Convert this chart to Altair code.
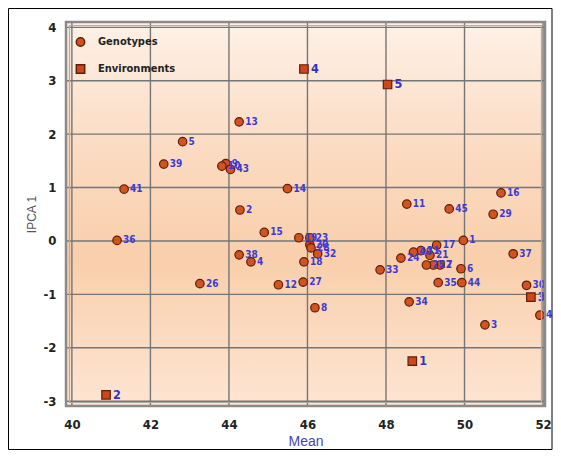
import altair as alt
import pandas as pd

# ---------------- data ----------------
geno_id = [str(i) for i in range(1, 46)]
geno_mean = [49.97, 44.28, 50.52, 44.56, 42.82, 49.91, 49.38, 46.19, 43.92, 43.82,
             48.53, 45.26, 44.26, 45.49, 44.90, 50.93, 49.29, 45.91, 45.78, 46.06,
             49.12, 49.21, 46.06, 48.38, 49.03, 43.26, 45.89, 46.09, 50.73, 51.58,
             48.89, 46.26, 47.85, 48.59, 49.33, 41.15, 51.24, 44.26, 42.34, 48.70,
             41.33, 51.92, 44.04, 49.93, 49.61]
geno_ipca = [0.01, 0.58, -1.57, -0.39, 1.86, -0.52, -0.45, -1.25, 1.45, 1.40,
             0.69, -0.82, 2.23, 0.98, 0.16, 0.90, -0.08, -0.39, 0.06, -0.07,
             -0.27, -0.45, 0.06, -0.32, -0.45, -0.80, -0.77, -0.13, 0.50, -0.83,
             -0.18, -0.24, -0.54, -1.14, -0.78, 0.01, -0.24, -0.26, 1.44, -0.21,
             0.97, -1.39, 1.34, -0.78, 0.60]

env_id = ["1", "2", "3", "4", "5"]
env_mean = [48.67, 40.87, 51.69, 45.91, 48.04]
env_ipca = [-2.25, -2.88, -1.05, 3.22, 2.93]

x_ticks = [40, 42, 44, 46, 48, 50, 52]
y_ticks = [-3, -2, -1, 0, 1, 2, 3, 4]
group_names = ["Genotypes", "Environments"]

# ---------------- layout / style ----------------
W, H = 479, 384
NARROW = "Liberation Sans Narrow, Arial Narrow, DejaVu Sans Condensed, sans-serif"
xs = alt.Scale(domain=[39.85, 52.05], nice=False, zero=False)
ys = alt.Scale(domain=[-3.09, 4.10], nice=False, zero=False)

geno = pd.DataFrame({"id": geno_id, "mean": geno_mean, "ipca": geno_ipca,
                     "type": group_names[0]})
env = pd.DataFrame({"id": env_id, "mean": env_mean, "ipca": env_ipca,
                    "type": group_names[1]})
pts = pd.concat([geno, env], ignore_index=True)

X_AX = alt.Axis(values=x_ticks, grid=False, ticks=False, domain=False,
                labelExpr="'' + datum.value", labelFont=NARROW,
                labelFontWeight="bold", labelFontSize=13, labelColor="#222222",
                labelPadding=12, title="Mean", titleFont="Liberation Sans",
                titleFontWeight="normal", titleFontSize=14, titleColor="#4646b4",
                titlePadding=3)
Y_AX = alt.Axis(values=y_ticks, grid=False, ticks=False, domain=False,
                labelExpr="'' + datum.value", labelFont=NARROW,
                labelFontWeight="bold", labelFontSize=13, labelColor="#222222",
                labelPadding=10, title="IPCA 1", titleFont="Liberation Sans",
                titleFontWeight="normal", titleFontSize=12, titleColor="#555555",
                titlePadding=5)

one = pd.DataFrame({"k": [0]})

bg = alt.Chart(one).mark_rect(
    color=alt.LinearGradient(
        gradient="linear", x1=0, y1=0, x2=0, y2=1,
        stops=[alt.GradientStop(offset=0, color="#fdf1e7"),
               alt.GradientStop(offset=0.35, color="#fbdac0"),
               alt.GradientStop(offset=0.62, color="#f9cfac"),
               alt.GradientStop(offset=1, color="#fde5d3")])
).encode(x=alt.value(0), x2=alt.value(W), y=alt.value(0), y2=alt.value(H))

xgrid = alt.Chart(pd.DataFrame({"mean": x_ticks})).mark_rule(
    color="#757575", strokeWidth=1.4
).encode(x=alt.X("mean:Q", scale=xs, axis=X_AX))

ygrid = alt.Chart(pd.DataFrame({"ipca": y_ticks})).mark_rule(
    color="#757575", strokeWidth=1.4
).encode(y=alt.Y("ipca:Q", scale=ys, axis=Y_AX))

LEG = alt.Legend(orient="none", legendX=9, legendY=14.5, title=None, padding=0,
                 symbolSize=70, labelFont=NARROW, labelFontWeight="bold",
                 labelFontSize=11, labelColor="#222222", rowPadding=12,
                 labelOffset=12)

points = alt.Chart(pts).mark_point(
    filled=True, size=72, opacity=1, stroke="#5c1f08", strokeWidth=1.2
).encode(
    x=alt.X("mean:Q", scale=xs, axis=X_AX),
    y=alt.Y("ipca:Q", scale=ys, axis=Y_AX),
    shape=alt.Shape("type:N", scale=alt.Scale(domain=group_names,
                                               range=["circle", "square"]),
                    legend=LEG),
    color=alt.Color("type:N", scale=alt.Scale(domain=group_names,
                                               range=["#d3521e", "#cf461a"]),
                    legend=LEG),
)

geno_text = alt.Chart(geno).mark_text(
    align="left", baseline="middle", dx=6, fontSize=10, fontWeight="bold",
    font=NARROW, color="#3b3bd2"
).encode(x=alt.X("mean:Q", scale=xs, axis=X_AX),
         y=alt.Y("ipca:Q", scale=ys, axis=Y_AX), text="id:N")

env_text = alt.Chart(env).mark_text(
    align="left", baseline="middle", dx=7, fontSize=12.5, fontWeight="bold",
    font=NARROW, color="#3232c8"
).encode(x=alt.X("mean:Q", scale=xs, axis=X_AX),
         y=alt.Y("ipca:Q", scale=ys, axis=Y_AX), text="id:N")

frame_outer = alt.Chart(one).mark_rect(
    fillOpacity=0, stroke="#8a8a8a", strokeWidth=2.5
).encode(x=alt.value(0), x2=alt.value(W), y=alt.value(0), y2=alt.value(H))

frame_inner = alt.Chart(one).mark_rect(
    fillOpacity=0, stroke="#b8aa9c", strokeWidth=1.2
).encode(x=alt.value(3.5), x2=alt.value(W - 3.5), y=alt.value(3.5),
         y2=alt.value(H - 3.5))

page_border = alt.Chart(one).mark_rect(
    fillOpacity=0, stroke="#000000", strokeWidth=1
).encode(x=alt.value(-57.5), x2=alt.value(486), y=alt.value(-13.5),
         y2=alt.value(427.5))

chart = alt.layer(
    bg, xgrid, ygrid, points, geno_text, env_text, frame_outer, frame_inner,
    page_border
).properties(
    width=W, height=H,
    autosize=alt.AutoSizeParams(type="none"),
    padding={"left": 58, "top": 14, "right": 8, "bottom": 44},
    background="white",
).configure_view(stroke=None)

chart.save("out.html", embed_options={"renderer": "svg", "actions": False})
